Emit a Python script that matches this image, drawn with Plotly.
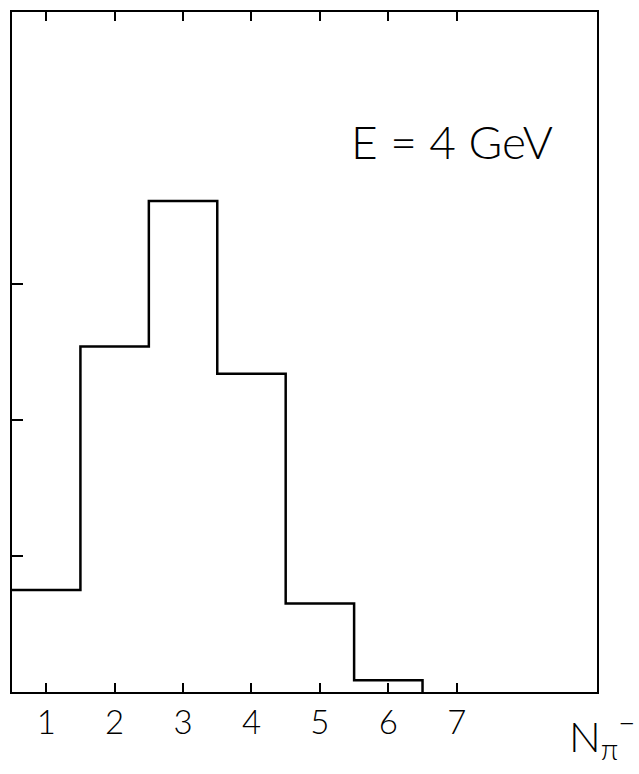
import plotly.graph_objects as go

# Multiplicity bins (number of negative pions) and their heights
bin_edges = [0.5, 1.5, 2.5, 3.5, 4.5, 5.5, 6.5]
heights = [0.75, 2.54, 3.61, 2.34, 0.65, 0.086]
x_ticks = [1, 2, 3, 4, 5, 6, 7]
y_ticks = [1, 2, 3]

# Step outline: horizontal across each bin, then drop to zero after the last one
step_x = bin_edges + [bin_edges[-1]]
step_y = heights + [heights[-1], 0]

fig = go.Figure()
fig.add_trace(go.Scatter(
    x=step_x, y=step_y, mode="lines",
    line=dict(color="black", width=2.5, shape="hv"),
    hoverinfo="skip", showlegend=False,
))

W, H = 639, 774
L, R, T, B = 12, 42, 10, 82
FONT = "Lato, DejaVu Sans, sans-serif"

fig.update_layout(
    width=W, height=H,
    margin=dict(l=L, r=R, t=T, b=B),
    paper_bgcolor="white", plot_bgcolor="white",
    font=dict(family=FONT, color="black", weight=300),
    xaxis=dict(
        range=[0.5, 9.05], tickvals=x_ticks, ticktext=[str(v) for v in x_ticks],
        ticks="inside", ticklen=9, tickwidth=2, tickcolor="black",
        showline=True, linewidth=2, linecolor="black", mirror="allticks",
        showgrid=False, zeroline=False,
        tickfont=dict(size=33, family=FONT, weight=300),
        ticklabelstandoff=0,
    ),
    yaxis=dict(
        range=[0, 5], tickvals=y_ticks, showticklabels=False,
        ticks="inside", ticklen=11, tickwidth=2, tickcolor="black",
        showline=True, linewidth=2, linecolor="black", mirror=True,
        showgrid=False, zeroline=False,
    ),
    annotations=[
        dict(
            text="E = 4 GeV", xref="paper", yref="paper",
            x=0.752, y=0.809, xanchor="center", yanchor="middle",
            showarrow=False, font=dict(size=46, family=FONT, weight=300),
        ),
        dict(
            text="N<sub>π</sub><sup>−</sup>", xref="paper", yref="paper",
            x=(637 - L) / (W - L - R), y=-(736 - (H - B)) / (H - T - B),
            xanchor="right", yanchor="middle",
            showarrow=False, font=dict(size=42, family=FONT, weight=300),
        ),
    ],
)

fig.write_html("out.html")
